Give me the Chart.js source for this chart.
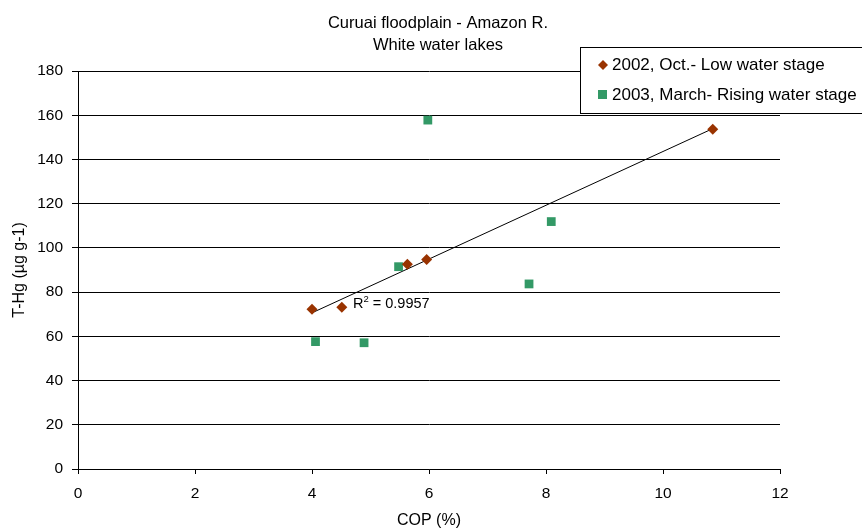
<!DOCTYPE html>
<html>
<head>
<meta charset="utf-8">
<title>Curuai floodplain - Amazon R.</title>
<script src="https://cdn.jsdelivr.net/npm/chart.js@4.4.1/dist/chart.umd.min.js"></script>
<style>
  html, body { margin: 0; padding: 0; background: #fff; }
  #wrap { width: 862px; height: 530px; position: relative; }
</style>
</head>
<body>
<div id="wrap"><canvas id="chart" width="862" height="530"></canvas></div>
<script>
// Organic carbon (COP, %) versus total mercury (T-Hg, µg g-1) in lake sediments
const titleLines = ['Curuai floodplain - Amazon R.', 'White water lakes'];
const xTitle = 'COP (%)';
const yTitle = 'T-Hg (µg g-1)';

const lowLabel = '2002, Oct.- Low water stage';
const lowCop = [4.00, 4.51, 5.63, 5.96, 10.85];
const lowHg = [72.2, 73.1, 92.6, 94.8, 153.6];

const risingLabel = '2003, March- Rising water stage';
const risingCop = [4.06, 4.89, 5.48, 5.98, 7.71, 8.09];
const risingHg = [57.6, 57.1, 91.5, 157.8, 83.7, 111.9];

const xTicks = [0, 2, 4, 6, 8, 10, 12];
const yTicks = [0, 20, 40, 60, 80, 100, 120, 140, 160, 180];
const r2Text = '0.9957';

const FONT = 'Arial, "Liberation Sans", sans-serif';
const BROWN = '#993300';
const GREEN = '#339966';

// least-squares fit of the low water series, drawn across its x range
function linearFit(xs, ys) {
  const n = xs.length;
  const mx = xs.reduce((a, b) => a + b, 0) / n;
  const my = ys.reduce((a, b) => a + b, 0) / n;
  let sxy = 0, sxx = 0;
  for (let i = 0; i < n; i++) {
    sxy += (xs[i] - mx) * (ys[i] - my);
    sxx += (xs[i] - mx) * (xs[i] - mx);
  }
  const slope = sxy / sxx;
  return { slope, intercept: my - slope * mx };
}
const fit = linearFit(lowCop, lowHg);
const xMin = Math.min(...lowCop), xMax = Math.max(...lowCop);
const trendPoints = [xMin, xMax].map(x => ({ x, y: fit.intercept + fit.slope * x }));

const toPoints = (xs, ys) => xs.map((x, i) => ({ x, y: ys[i] }));

// title, legend box and R² annotation
const decorations = {
  id: 'decorations',
  afterDraw(chart) {
    const ctx = chart.ctx;
    ctx.save();
    ctx.fillStyle = '#000';
    ctx.font = '16.5px ' + FONT;
    ctx.textAlign = 'center';
    ctx.textBaseline = 'middle';
    ctx.fillText(titleLines[0], 438, 23);
    ctx.fillText(titleLines[1], 438, 45);

    // legend
    const lx = 580.5, ly = 47.5, lw = 300, lh = 66;
    ctx.fillStyle = '#fff';
    ctx.fillRect(lx, ly, lw, lh);
    ctx.strokeStyle = '#000';
    ctx.lineWidth = 1;
    ctx.strokeRect(lx, ly, lw, lh);

    ctx.fillStyle = BROWN;
    ctx.beginPath();
    ctx.moveTo(603, 60); ctx.lineTo(608, 65); ctx.lineTo(603, 70); ctx.lineTo(598, 65);
    ctx.closePath();
    ctx.fill();
    ctx.fillStyle = GREEN;
    ctx.fillRect(598, 90, 9, 9);

    ctx.fillStyle = '#000';
    ctx.textAlign = 'left';
    ctx.font = '17px ' + FONT;
    ctx.fillText(lowLabel, 612, 65);
    ctx.fillText(risingLabel, 612, 95);

    // R² label
    const xs = chart.scales.x, ys = chart.scales.y;
    const tx = xs.getPixelForValue(4.7);
    const ty = ys.getPixelForValue(74.6);
    ctx.font = '14.5px ' + FONT;
    ctx.fillText('R', tx, ty);
    let w = ctx.measureText('R').width;
    ctx.font = '9.5px ' + FONT;
    ctx.fillText('2', tx + w, ty - 5);
    w += ctx.measureText('2').width;
    ctx.font = '14.5px ' + FONT;
    ctx.fillText(' = ' + r2Text, tx + w, ty);
    ctx.restore();
  }
};

new Chart(document.getElementById('chart'), {
  type: 'scatter',
  data: {
    datasets: [
      {
        label: lowLabel,
        data: toPoints(lowCop, lowHg),
        pointStyle: 'rectRot',
        pointRadius: 5.5,
        backgroundColor: BROWN,
        borderColor: BROWN,
        borderWidth: 0,
        order: 0
      },
      {
        label: risingLabel,
        data: toPoints(risingCop, risingHg),
        pointStyle: 'rect',
        pointRadius: 6.2,
        backgroundColor: GREEN,
        borderColor: GREEN,
        borderWidth: 0,
        order: 1
      },
      {
        label: 'Linear (' + lowLabel + ')',
        data: trendPoints,
        showLine: true,
        pointRadius: 0,
        borderColor: '#000',
        borderWidth: 1,
        fill: false,
        order: 2
      }
    ]
  },
  options: {
    responsive: false,
    animation: false,
    events: [],
    layout: { padding: { top: 71, right: 82, left: 0, bottom: 0 } },
    plugins: {
      legend: { display: false },
      title: { display: false },
      tooltip: { enabled: false }
    },
    scales: {
      x: {
        type: 'linear',
        min: xTicks[0],
        max: xTicks[xTicks.length - 1],
        afterBuildTicks(scale) { scale.ticks = xTicks.map(v => ({ value: v })); },
        afterFit(scale) { scale.height = 61; },
        grid: {
          drawOnChartArea: false,
          drawTicks: true,
          tickLength: 5,
          color: '#000',
          lineWidth: 1
        },
        border: { display: true, color: '#000', width: 1 },
        ticks: {
          color: '#000',
          font: { family: FONT, size: 15.5 },
          padding: 10,
          maxRotation: 0
        },
        title: {
          display: true,
          text: xTitle,
          color: '#000',
          font: { family: FONT, size: 16 },
          padding: { top: 0, bottom: 0 }
        }
      },
      y: {
        type: 'linear',
        min: yTicks[0],
        max: yTicks[yTicks.length - 1],
        afterBuildTicks(scale) { scale.ticks = yTicks.map(v => ({ value: v })); },
        afterFit(scale) { scale.width = 78; },
        grid: {
          drawOnChartArea: true,
          drawTicks: true,
          tickLength: 6,
          color: '#000',
          lineWidth: 1
        },
        border: { display: true, color: '#000', width: 1 },
        ticks: {
          color: '#000',
          font: { family: FONT, size: 15.5 },
          padding: 9
        },
        title: {
          display: true,
          text: yTitle,
          color: '#000',
          font: { family: FONT, size: 16 },
          padding: { top: 10, bottom: 0 }
        }
      }
    }
  },
  plugins: [decorations]
});
</script>
</body>
</html>
